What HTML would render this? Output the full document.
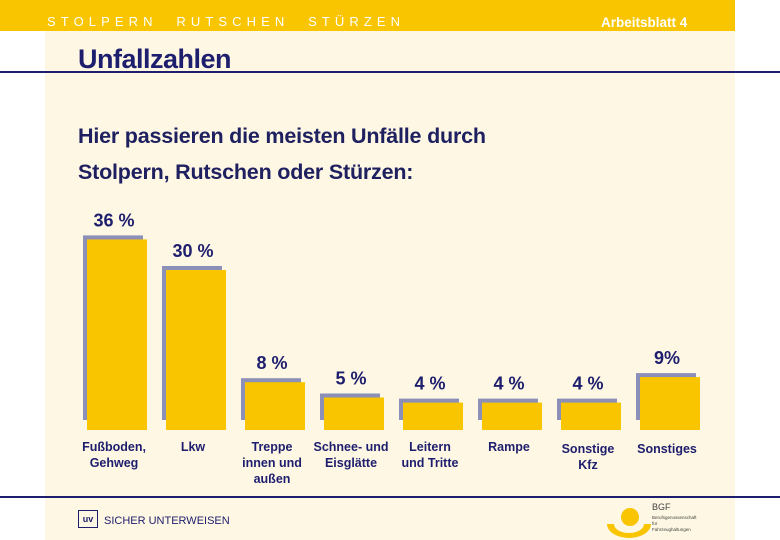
<!DOCTYPE html>
<html><head><meta charset="utf-8"><style>
body{margin:0;width:780px;height:540px;background:#fff;overflow:hidden;font-family:"Liberation Sans",sans-serif;position:relative}
.a{position:absolute}
</style></head><body>
<div class="a" style="left:45px;top:0;width:690px;height:540px;background:#fdf7e3"></div>
<div class="a" style="left:0;top:0;width:735px;height:31px;background:#f8c500"></div>
<div class="a" style="left:47px;top:14px;color:#fff;font-size:13px;letter-spacing:5.1px;word-spacing:10px">STOLPERN RUTSCHEN STÜRZEN</div>
<div class="a" style="left:601px;top:15px;color:#fff;font-size:13.5px;font-weight:bold">Arbeitsblatt 4</div>
<div class="a" style="left:78px;top:44px;color:#1e1e6e;font-size:27px;font-weight:bold;letter-spacing:-0.5px">Unfallzahlen</div>
<div class="a" style="left:0;top:71px;width:780px;height:2px;background:#1e1e6e"></div>
<div class="a" style="left:78px;top:118px;color:#1e2060;font-size:21.5px;font-weight:bold;line-height:36px;letter-spacing:-0.2px">Hier passieren die meisten Unfälle durch<br>Stolpern, Rutschen oder Stürzen:</div>
<svg class="a" style="left:0;top:0" width="780" height="540" id="chart"></svg>
<div class="a" style="left:0;top:496px;width:780px;height:2px;background:#1e1e6e"></div>
<div class="a" style="left:78px;top:510px;width:18px;height:16px;border:1.5px solid #1e1e6e;color:#1e1e6e;font-size:9px;font-weight:bold;text-align:center;line-height:16px">uv</div>
<div class="a" style="left:104px;top:515px;color:#1e1e6e;font-size:11px">SICHER UNTERWEISEN</div>
<svg class="a" style="left:600px;top:498px" width="110" height="42">
<path d="M7,26 A22,14 0 0 0 51,26 L44,26 A15,9 0 0 1 14,26 Z" fill="#f8c500"/>
<circle cx="30" cy="19" r="9" fill="#f8c500"/>
<text x="52" y="12" font-size="9" fill="#444" font-family="Liberation Sans">BGF</text>
<text x="52" y="21" font-size="4.5" fill="#444" font-family="Liberation Sans">Berufsgenossenschaft</text>
<text x="52" y="27" font-size="4.5" fill="#444" font-family="Liberation Sans">für</text>
<text x="52" y="33" font-size="4.5" fill="#444" font-family="Liberation Sans">Fahrzeughaltungen</text>
</svg>
<script>
const categories=[["Fußboden,","Gehweg"],["Lkw"],["Treppe","innen und","außen"],["Schnee- und","Eisglätte"],["Leitern","und Tritte"],["Rampe"],["Sonstige","Kfz"],["Sonstiges"]];
const values=[36,30,8,5,4,4,4,9];
const valueLabels=["36 %","30 %","8 %","5 %","4 %","4 %","4 %","9%"];
const svg=document.getElementById('chart');
const NS='http://www.w3.org/2000/svg';
const base=430,x0=87,step=79,bw=60;
function xs(i){return x0+i*step;}
function hs(v){return 7+5.1*v;}
function mk(t,a){const e=document.createElementNS(NS,t);for(const k in a)e.setAttribute(k,a[k]);svg.appendChild(e);return e;}
values.forEach((v,i)=>{
 const x=xs(i),h=hs(v),top=base-h;
 const s=mk('rect',{x:x-4,y:top-4,width:bw,height:h-6,fill:'#8c90b8'});
 
 
 const r=mk('rect',{x:x,y:top,width:bw,height:h,fill:'#f8c500'});
 
 
 const t=mk('text',{x:x+bw/2-3,y:top-13,'text-anchor':'middle','font-size':'18','font-weight':'bold',fill:'#1e1e6e','font-family':'Liberation Sans'});
 t.textContent=valueLabels[i];
 
 
 categories[i].forEach((ln,j)=>{
  const c=mk('text',{x:x+bw/2-3,y:451+j*16+(i>=6?2:0),'text-anchor':'middle','font-size':'12.5','font-weight':'bold',fill:'#1e1e6e','font-family':'Liberation Sans'});
  c.textContent=ln;
  
  
 });
});
</script>
</body></html>
